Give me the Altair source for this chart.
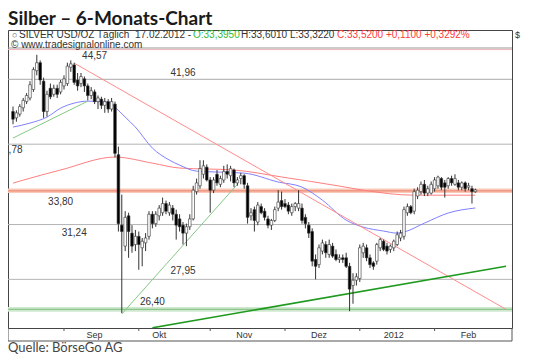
import altair as alt
import pandas as pd
import numpy as np

# ---------------- data ----------------
dates = pd.bdate_range("2011-08-11", "2012-02-17").strftime("%Y-%m-%d").tolist()

opens = [39.3, 38.8, 39.1, 39.6, 40.1, 40.4, 41.1, 42.7, 43.4, 41.8, 39.3, 41.2, 40.7, 41.2, 40.9,
         41.4, 41.6, 43.0, 43.2, 41.9, 41.6, 42.0, 41.4, 40.6, 40.9, 40.1, 40.3, 39.8, 40.1, 39.5, 39.9, 36.0, 31.2, 29.9, 31.8, 30.7, 30.0,
         30.5, 29.8, 30.1, 30.5, 31.9, 31.3, 31.8, 32.0, 32.6, 32.0, 32.3, 31.9, 31.6, 31.2, 30.7, 31.1, 31.6, 33.4, 33.8, 34.6, 35.1,
         34.2, 33.5, 34.6, 33.9, 34.2, 34.8, 34.5, 34.9, 34.0, 34.3, 34.5, 33.8, 31.8, 32.2, 31.4, 32.4, 32.1, 31.6, 31.2, 31.5, 32.3, 32.8,
         32.6, 32.5, 32.0, 32.4, 32.3, 32.3, 31.7, 31.2, 30.8, 29.1, 28.8, 29.6, 30.0, 29.4, 29.9, 29.4, 29.1, 29.2, 29.2, 28.7, 27.6, 27.9,
         28.0, 29.5, 29.8, 29.2, 28.9, 29.0, 29.8, 30.2, 29.9, 29.7, 29.8, 30.0, 30.4, 30.5, 32.0, 32.4, 32.1, 33.1, 33.4, 33.9, 33.3, 33.3,
         33.6, 33.8, 34.3, 34.0, 33.8, 34.3, 33.9, 34.0, 33.7, 34.0, 33.7, 33.6, 33.395]
highs = [39.7, 39.4, 39.9, 40.4, 40.8, 41.8, 43.0, 44.1, 43.6, 42.1, 41.0, 41.6, 41.5, 41.5, 41.9,
         42.3, 43.4, 43.6, 43.4, 42.5, 42.5, 42.2, 41.6, 41.3, 41.1, 40.6, 40.5, 40.4, 40.3, 40.4, 40.1, 36.6, 33.2, 32.1, 32.0, 31.2, 30.9,
         30.8, 30.4, 30.7, 32.1, 32.1, 32.1, 32.5, 33.0, 32.8, 32.7, 32.5, 32.2, 31.9, 31.4, 31.3, 31.9, 33.8, 34.3, 35.6, 35.6, 35.3,
         34.4, 34.4, 34.9, 34.5, 35.2, 35.3, 35.2, 35.0, 34.4, 34.7, 34.6, 34.0, 32.3, 32.4, 32.7, 32.6, 32.3, 31.8, 31.6, 32.4, 33.5, 33.4,
         32.9, 32.7, 32.6, 32.7, 33.5, 32.6, 31.9, 31.4, 31.0, 29.4, 30.0, 30.3, 30.2, 30.3, 30.1, 29.7, 29.4, 29.4, 29.5, 28.9, 28.3, 28.3,
         30.0, 30.1, 30.0, 29.4, 29.0, 30.1, 30.4, 30.3, 30.1, 30.0, 30.3, 30.8, 30.9, 32.4, 32.6, 32.5, 33.6, 33.7, 34.1, 34.2, 33.8, 34.1,
         34.4, 34.5, 34.4, 34.2, 34.4, 34.5, 34.6, 34.2, 34.1, 34.1, 34.0, 33.8, 33.601]
lows = [38.3, 38.5, 38.9, 39.3, 39.9, 40.2, 40.9, 42.3, 41.5, 38.8, 38.9, 40.3, 40.5, 40.4, 40.7,
        41.1, 41.4, 42.6, 41.5, 41.0, 41.3, 40.9, 40.2, 40.3, 39.9, 39.5, 39.5, 39.2, 39.2, 39.3, 35.8, 30.8, 26.1, 29.6, 29.2, 29.5, 29.6,
        28.5, 28.7, 29.6, 30.3, 31.0, 31.1, 31.5, 31.8, 31.9, 31.8, 31.5, 30.3, 30.8, 30.0, 29.9, 30.9, 31.5, 33.2, 33.6, 34.3, 34.1,
        32.0, 33.3, 33.8, 33.7, 34.0, 34.3, 34.1, 33.7, 33.8, 33.9, 33.6, 31.3, 31.5, 30.8, 31.2, 31.9, 31.5, 31.0, 30.9, 31.4, 32.1, 32.2,
        32.3, 31.9, 31.8, 32.1, 32.1, 31.3, 31.0, 30.4, 28.7, 27.95, 28.6, 29.4, 29.2, 29.2, 29.2, 29.0, 28.9, 28.9, 28.6, 26.2, 26.6, 27.6,
        27.8, 29.2, 29.0, 28.6, 28.5, 28.8, 29.6, 29.6, 29.4, 29.5, 29.6, 29.9, 30.2, 30.3, 31.8, 31.9, 31.9, 32.9, 33.2, 33.1, 33.1, 33.2,
        33.4, 33.6, 33.5, 33.0, 33.6, 33.8, 33.8, 33.5, 33.5, 33.4, 33.5, 32.6, 33.322]
closes = [38.7, 39.2, 39.7, 40.2, 40.6, 41.5, 42.8, 43.4, 41.9, 39.3, 40.7, 40.5, 41.2, 40.7, 41.7,
          42.0, 43.1, 43.3, 41.7, 41.4, 42.2, 41.4, 40.6, 41.0, 40.1, 40.4, 39.8, 40.1, 39.5, 40.1, 36.1, 31.3, 30.8, 31.7, 30.8, 29.9, 30.5,
          30.0, 30.2, 30.4, 31.9, 31.3, 31.9, 32.3, 32.6, 32.1, 32.5, 31.9, 31.2, 31.1, 30.7, 31.1, 31.6, 33.5, 34.0, 35.0, 35.2, 34.2,
          33.5, 34.2, 34.0, 34.3, 34.8, 34.6, 35.0, 34.0, 34.2, 34.5, 33.9, 31.7, 32.0, 31.5, 32.5, 32.0, 31.7, 31.2, 31.5, 32.2, 32.7, 32.4,
          32.4, 32.1, 32.4, 32.6, 32.6, 31.5, 31.3, 30.7, 29.0, 28.7, 29.8, 30.1, 29.5, 30.0, 29.3, 29.1, 29.2, 29.1, 28.7, 27.4, 27.9, 28.1,
          29.8, 29.9, 29.2, 28.8, 28.7, 30.0, 30.3, 29.7, 29.6, 29.9, 30.2, 30.6, 30.7, 32.2, 32.4, 32.0, 33.4, 33.5, 33.9, 33.3, 33.6, 33.9,
          34.2, 34.4, 33.7, 33.7, 34.3, 34.0, 34.3, 33.7, 34.0, 33.6, 33.8, 33.4, 33.52]

# moving averages (date, value)
ma_blue_dates = ["2011-08-11", "2011-08-18", "2011-08-25", "2011-08-31", "2011-09-06", "2011-09-12", "2011-09-20",
                 "2011-09-22", "2011-09-27", "2011-09-30", "2011-10-07", "2011-10-14", "2011-10-19", "2011-10-26",
                 "2011-11-04", "2011-11-15", "2011-11-29", "2011-12-08", "2011-12-16", "2011-12-27", "2012-01-03",
                 "2012-01-11", "2012-01-17", "2012-01-19", "2012-01-27", "2012-02-07", "2012-02-17"]
ma_blue_vals = [38.08, 38.39, 38.86, 39.57, 39.98, 40.14, 40.06, 39.65, 38.86, 38.08, 36.49, 35.61, 35.25, 34.82,
                34.75, 34.68, 34.06, 33.71, 32.83, 31.52, 31.08, 30.83, 30.70, 30.77, 31.33, 31.98, 32.31]
ma_red_dates = ["2011-08-11", "2011-08-16", "2011-08-31", "2011-09-22", "2011-10-07", "2011-10-19", "2011-11-10",
                "2011-11-30", "2011-12-23", "2012-01-03", "2012-01-24", "2012-02-17"]
ma_red_vals = [33.98, 34.19, 34.90, 35.83, 35.39, 35.04, 34.90, 34.41, 33.78, 33.50, 33.16, 33.16]

# trend lines (start date, start price, end date, end price, colour, width)
trend_start = ["2011-09-06", "2011-08-11", "2011-09-26", "2011-10-07"]
trend_p1 = [43.36, 37.24, 26.05, 25.33]
trend_end = ["2012-03-01", "2011-09-12", "2011-11-11", "2012-03-01"]
trend_p2 = [26.30, 40.14, 33.90, 28.70]
trend_color = ["#ff8c8c", "#86c886", "#86c886", "#1f9a1f"]
trend_width = [1.0, 1.0, 1.0, 1.6]

# horizontal support / resistance levels
level_vals = [44.57, 41.96, 36.78, 31.24, 27.95]
level_labels = ["44,57", "41,96", "36,78", "31,24", "27,95"]
level_label_dates = ["2011-09-14", "2011-10-20", "2011-08-11", "2011-09-06", "2011-10-20"]
level_label_dx = [0, 0, -3, 0, 0]
level_label_dy = [6, -6, 6, 8, -8]
level_color = ["#f0b4b4", "#aaaaaa", "#b4b4b4", "#b4b4b4", "#b4b4b4"]

band_vals = [33.45, 26.30]
band_lo = [33.30, 26.17]
band_hi = [33.62, 26.43]
band_labels = ["33,80", "26,40"]
band_label_dates = ["2011-08-31", "2011-10-07"]
band_label_dx = [0, 0]
band_label_dy = [11, -7]
band_fill = ["#f8c9b9", "#cfe8cf"]
band_line = ["#ec7a62", "#7cbf7c"]

month_starts = ["2011-09-01", "2011-10-03", "2011-11-01", "2011-12-01", "2012-01-02", "2012-02-01"]
month_label_dates = ["2011-09-14", "2011-10-11", "2011-11-15", "2011-12-15", "2012-01-16", "2012-02-15"]
month_labels = ["Sep", "Okt", "Nov", "Dez", "2012", "Feb"]
y_ticks = [26, 28, 30, 32, 34, 36, 38, 40, 42, 44]

# ---------------- helpers ----------------
REF = "2011-09-01"


def bidx(ds):
    return [int(np.busday_count(REF, d)) if d >= REF else -int(np.busday_count(d, REF)) for d in ds]


W, H = 504, 298
XDOM = [-15.0, 130.3]
YDOM = [25.32, 46.38]
xsc = alt.Scale(domain=XDOM, nice=False, zero=False)
ysc = alt.Scale(type="log", domain=YDOM, nice=False)
FONT = "Liberation Sans"
TXT = "#333333"


def X(f):
    return alt.X(f"{f}:Q", scale=xsc, axis=None)


def Y(f, axis=None):
    return alt.Y(f"{f}:Q", scale=ysc, axis=axis)


candles = pd.DataFrame({"date": dates, "open": opens, "high": highs, "low": lows, "close": closes})
candles["idx"] = bidx(candles["date"].tolist())
candles["lo"] = candles[["open", "close"]].min(axis=1)
candles["hi"] = candles[["open", "close"]].max(axis=1)
candles["fill"] = np.where(candles["close"] >= candles["open"], "#ffffff", "#000000")

blue = pd.DataFrame({"idx": bidx(ma_blue_dates), "v": ma_blue_vals})
red = pd.DataFrame({"idx": bidx(ma_red_dates), "v": ma_red_vals})
trends = pd.DataFrame({"i1": bidx(trend_start), "p1": trend_p1, "i2": bidx(trend_end), "p2": trend_p2,
                       "c": trend_color, "w": trend_width})
levels = pd.DataFrame({"v": level_vals, "c": level_color})
level_txt = pd.DataFrame({"v": level_vals, "t": level_labels, "idx": bidx(level_label_dates),
                          "dx": level_label_dx, "dy": level_label_dy})
bands = pd.DataFrame({"v": band_vals, "lo": band_lo, "hi": band_hi, "f": band_fill, "c": band_line})
band_txt = pd.DataFrame({"v": band_vals, "t": band_labels, "idx": bidx(band_label_dates),
                         "dx": band_label_dx, "dy": band_label_dy})
mticks = pd.DataFrame({"idx": bidx(month_starts)})
mlabels = pd.DataFrame({"idx": bidx(month_label_dates), "t": month_labels})

layers = []

# bands
layers.append(alt.Chart(bands).mark_rect().encode(
    x=alt.value(0), x2=alt.value(W), y=Y("lo"), y2=alt.Y2("hi"), color=alt.Color("f:N", scale=None)))
layers.append(alt.Chart(bands).mark_rule(strokeWidth=1).encode(
    x=alt.value(0), x2=alt.value(W), y=Y("v"), color=alt.Color("c:N", scale=None)))
# level lines
layers.append(alt.Chart(levels).mark_rule(strokeWidth=1).encode(
    x=alt.value(0), x2=alt.value(W), y=Y("v"), color=alt.Color("c:N", scale=None)))
# level labels
for df_t in (level_txt, band_txt):
    for (dx, dy), sub in df_t.groupby(["dx", "dy"]):
        layers.append(alt.Chart(sub).mark_text(font=FONT, fontSize=10, color=TXT, dx=int(dx), dy=int(dy),
                                               clip=True, baseline="middle").encode(
            x=X("idx"), y=Y("v"), text="t:N"))
# moving averages
layers.append(alt.Chart(red).mark_line(color="#ff7f7f", strokeWidth=1, interpolate="monotone").encode(
    x=X("idx"), y=Y("v")))
layers.append(alt.Chart(blue).mark_line(color="#7f7fff", strokeWidth=1, interpolate="monotone").encode(
    x=X("idx"), y=Y("v")))
# trend lines
layers.append(alt.Chart(trends).mark_rule(clip=True).encode(
    x=X("i1"), x2=alt.X2("i2"), y=Y("p1"), y2=alt.Y2("p2"),
    color=alt.Color("c:N", scale=None), strokeWidth=alt.StrokeWidth("w:Q", scale=None)))
# candles
axis = alt.Axis(orient="right", values=y_ticks, format="d", tickSize=3, tickColor="#555555",
                labelFont=FONT, labelFontSize=9, labelColor=TXT, labelPadding=2, domain=False,
                grid=False, title=None)
layers.append(alt.Chart(candles).mark_rule(color="#333333", strokeWidth=1, clip=True).encode(
    x=X("idx"), y=Y("low", axis), y2=alt.Y2("high")))
layers.append(alt.Chart(candles).mark_bar(size=2.6, stroke="#333333", strokeWidth=0.6, clip=True).encode(
    x=X("idx"), y=Y("lo"), y2=alt.Y2("hi"), fill=alt.Fill("fill:N", scale=None)))

# month ticks and labels
layers.append(alt.Chart(mticks).mark_rule(color="#555555").encode(
    x=X("idx"), y=alt.value(H), y2=alt.value(H + 3)))
layers.append(alt.Chart(mlabels).mark_text(font=FONT, fontSize=9, color=TXT, baseline="middle").encode(
    x=X("idx"), y=alt.value(H + 7), text="t:N"))


def ptext(t, px, py, color=TXT, size=10, font=FONT, weight="normal", align="left", baseline="middle"):
    return alt.Chart(alt.Data(values=[{}])).mark_text(
        text=t, font=font, fontSize=size, color=color, fontWeight=weight, align=align, baseline=baseline
    ).encode(x=alt.value(px), y=alt.value(py))


def prule(x1, y1, x2, y2, color="#555555", w=1):
    return alt.Chart(alt.Data(values=[{}])).mark_rule(color=color, strokeWidth=w).encode(
        x=alt.value(x1), x2=alt.value(x2), y=alt.value(y1), y2=alt.value(y2))


# frame pieces
layers.append(prule(0, 18, W, 18, "#999999"))
layers.append(prule(0, H + 13, W, H + 13, "#555555"))
layers.append(prule(0, H, 0, H + 13, "#555555"))
layers.append(prule(W, H, W, H + 13, "#555555"))

# header
layers.append(ptext("○", 4, 4.5, "#555555", 9))
layers.append(ptext("SILVER USD/OZ Täglich", 11, 4.5))
layers.append(ptext("17.02.2012 -", 127, 4.5))
layers.append(ptext("O:33,3950", 185, 4.5, "#33bb33"))
layers.append(ptext("H:33,6010 L:33,3220", 233, 4.5))
layers.append(ptext("C:33,5200 +0,1100 +0,3292%", 329, 4.5, "#ff3b3b"))
layers.append(ptext("© www.tradesignalonline.com", 3, 14.5, TXT, 10))
layers.append(ptext("$", 507, 4.5, TXT, 9))

# title and source
layers.append(ptext("Silber – 6-Monats-Chart", 0, -11.5, "#1a1a1a", 19, "Lato", "bold"))
layers.append(ptext("Quelle: BörseGo AG", 0, 318, "#444444", 13, "Lato"))

chart = alt.layer(*layers).properties(
    width=W, height=H,
    padding={"left": 0, "top": 22, "right": 15, "bottom": 28},
    autosize=alt.AutoSizeParams(type="none"),
    background="white",
).configure_view(stroke="#444444", strokeWidth=1)

chart.save("out.html", embed_options={"renderer": "svg", "actions": False})
